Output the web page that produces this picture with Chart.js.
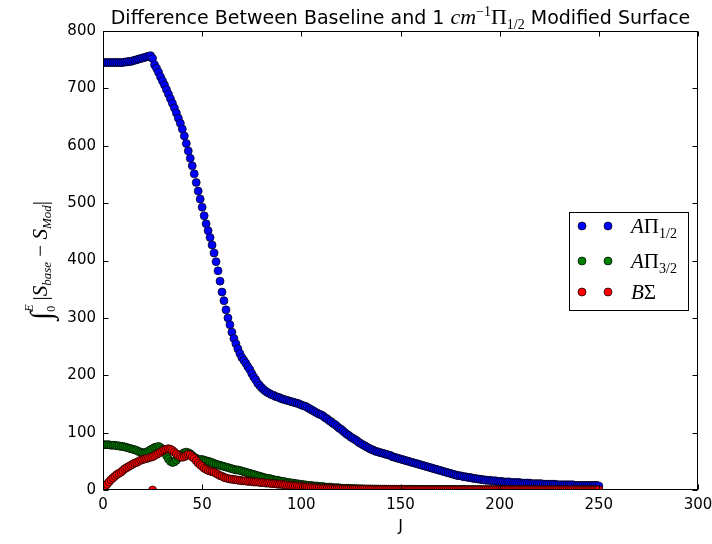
<!DOCTYPE html>
<html>
<head>
<meta charset="utf-8">
<script src="https://cdn.jsdelivr.net/npm/chart.js@4.4.0/dist/chart.umd.min.js"></script>
<style>
  html, body { margin: 0; padding: 0; background: #fff; }
  #wrap { width: 712px; height: 544px; }
</style>
</head>
<body>
<div id="wrap"><canvas id="diffChart" width="712" height="544"></canvas></div>
<script>
// integrated |S_base - S_Mod| per J (J = 0 .. 250)
const aPiHalf = [
  745,745,745,745,745,745,745,745,745,745,
  745,746,746,747,747,748,749,750,751,752,
  753,754,755,756,757,752,741,735,728,720,
  713,706,698,690,682,674,666,657,648,639,
  629,617,604,591,578,565,551,536,521,507,
  493,478,464,452,440,427,413,398,382,364,
  345,330,314,300,288,275,264,255,246,238,
  231,226,221,215,210,203,197,192,186,182,
  178,175,172,170,168,166,165,163,162,161,
  159,158,157,156,155,154,153,152,151,150,
  148,147,146,144,142,140,138,136,134,132,
  131,129,126,124,121,119,116,114,111,108,
  106,103,100,97,95,92,90,88,86,83,
  81,79,77,75,73,71,70,68,67,66,
  65,64,63,62,61,60,58,57,56,55,
  54,53,52,51,50,49,48,47,46,45,
  44,43,42,41,40,39,38,37,36,35,
  34,33,32,31,30,29,28,27,26,25,
  25,24,23,23,22,22,21,20,20,19,
  19,18,18,17,17,17,16,16,16,15,
  15,15,14,14,14,14,13,13,13,13,
  13,12,12,12,12,12,11,11,11,11,
  11,11,10,10,10,10,10,10,10,9,
  9,9,9,9,9,9,9,9,8,8,
  8,8,8,8,8,8,8,8,8,8,
  7
];
const aPiThreeHalf = [
  79,79,79,79,78,78,78,77,77,76,
  76,75,74,73,72,71,70,69,67,66,
  65,65,66,68,70,72,74,75,76,74,
  71,66,60,54,50,48,49,52,56,60,
  63,65,66,65,63,60,57,55,54,53,
  53,52,51,50,49,48,46,45,44,43,
  42,41,40,39,38,37,36,35,35,34,
  33,32,31,30,29,28,27,26,25,24,
  23,22,21,20,20,19,18,17,17,16,
  15,15,14,13,13,12,12,11,11,10,
  10,9,9,8,8,8,7,7,7,6,
  6,6,5,5,5,5,4,4,4,4,
  3,3,3,3,3,2.5,2.5,2.4,2.3,2.2,
  2.1,2.0,1.9,1.9,1.8,1.8,1.7,1.7,1.6,1.6,
  1.5,1.5,1.5,1.4,1.4,1.4,1.3,1.3,1.3,1.2,
  1.2,1.2,1.2,1.1,1.1,1.1,1.1,1.0,1.0,1.0,
  1.0,1.0,0.9,0.9,0.9,0.9,0.9,0.9,0.8,0.8,
  0.8,0.8,0.8,0.8,0.8,0.7,0.7,0.7,0.7,0.7,
  0.7,0.7,0.7,0.6,0.6,0.6,0.6,0.6,0.6,0.6,
  0.6,0.6,0.6,0.5,0.5,0.5,0.5,0.5,0.5,0.5,
  0.5,0.5,0.5,0.5,0.5,0.5,0.5,0.5,0.4,0.4,
  0.4,0.4,0.4,0.4,0.4,0.4,0.4,0.4,0.4,0.4,
  0.4,0.4,0.4,0.4,0.4,0.4,0.4,0.4,0.4,0.4,
  0.4,0.4,0.4,0.4,0.3,0.3,0.3,0.3,0.3,0.3,
  0.3,0.3,0.3,0.3,0.3,0.3,0.3,0.3,0.3,0.3,
  0.3
];
const bSigma = [
  2,6,10,14,18,21,24,27,29,31,
  34,37,39,41,43,45,47,48,50,52,
  53,54,55,56,57,58,60,62,64,66,
  68,70,71,72,71,69,66,63,60,58,
  57,58,60,62,61,58,55,51,47,44,
  41,38,36,34,33,32,31,29,27,25,
  24,22,21,20,19,19,18,18,17,17,
  16,16,16,15,15,15,14,14,14,13,
  13,13,12,12,12,11,11,11,10,10,
  10,9,9,8,8,8,7,7,7,6,
  6,5.5,5.2,4.9,4.6,4.3,4.0,3.8,3.6,3.4,
  3.2,3.0,2.8,2.7,2.5,2.4,2.3,2.2,2.1,2.0,
  1.9,1.8,1.7,1.6,1.6,1.5,1.4,1.4,1.3,1.3,
  1.2,1.2,1.1,1.1,1.1,1.0,1.0,1.0,0.9,0.9,
  0.9,0.9,0.8,0.8,0.8,0.8,0.8,0.7,0.7,0.7,
  0.7,0.7,0.7,0.6,0.6,0.6,0.6,0.6,0.6,0.6,
  0.6,0.5,0.5,0.5,0.5,0.5,0.5,0.5,0.5,0.5,
  0.5,0.5,0.5,0.5,0.5,0.5,0.5,0.5,0.5,0.5,
  0.5,0.5,0.5,0.5,0.5,0.4,0.4,0.4,0.4,0.4,
  0.4,0.4,0.4,0.4,0.4,0.4,0.4,0.4,0.4,0.4,
  0.4,0.4,0.4,0.4,0.4,0.4,0.4,0.4,0.4,0.4,
  0.4,0.4,0.4,0.4,0.4,0.3,0.3,0.3,0.3,0.3,
  0.3,0.3,0.3,0.3,0.3,0.3,0.3,0.3,0.3,0.3,
  0.3,0.3,0.3,0.3,0.3,0.3,0.3,0.3,0.3,0.3,
  0.3,0.3,0.3,0.3,0.3,0.3,0.3,0.3,0.3,0.3,
  0.3
];
// lone B-Sigma sample lying on the axis
const bSigmaExtraJ = [25];
const bSigmaExtraVal = [0];

const seriesNames = ['AΠ1/2', 'AΠ3/2', 'BΣ'];
const seriesColors = ['#0000ff', '#008000', '#ff0000'];

const SANS = '"DejaVu Sans", sans-serif';
const SERIF = '"Liberation Serif", "DejaVu Serif", serif';

function toPoints(vals) {
  return vals.map((v, j) => ({ x: j, y: v }));
}

const redPoints = toPoints(bSigma).concat(bSigmaExtraJ.map((j, i) => ({ x: j, y: bSigmaExtraVal[i] })));

// text made of runs: [text, font, dy, advance override]
function drawRuns(ctx, runs, x, y, align) {
  let total = 0;
  runs.forEach(r => {
    ctx.font = r[1];
    total += (r[3] !== undefined) ? r[3] : ctx.measureText(r[0]).width;
  });
  let cx = align === 'center' ? x - total / 2 : x;
  runs.forEach(r => {
    ctx.font = r[1];
    ctx.fillText(r[0], cx, y + (r[2] || 0));
    cx += (r[3] !== undefined) ? r[3] : ctx.measureText(r[0]).width;
  });
}

const framePlugin = {
  id: 'frame',
  afterDraw(chart) {
    const ctx = chart.ctx;
    const a = chart.chartArea;
    const xs = chart.scales.x, ys = chart.scales.y;
    ctx.save();
    ctx.strokeStyle = '#000';
    ctx.lineWidth = 1;
    const L = Math.round(a.left) + 0.5, R = Math.round(a.right) - 0.5;
    const T = Math.round(a.top) + 0.5, B = Math.round(a.bottom) - 0.5;
    ctx.strokeRect(L, T, R - L, B - T);

    // inward ticks on all four sides
    ctx.beginPath();
    xs.ticks.forEach(t => {
      const px = Math.round(xs.getPixelForValue(t.value)) + 0.5;
      ctx.moveTo(px, B); ctx.lineTo(px, B - 5);
      ctx.moveTo(px, T); ctx.lineTo(px, T + 5);
    });
    ys.ticks.forEach(t => {
      const py = Math.round(ys.getPixelForValue(t.value)) + 0.5;
      ctx.moveTo(L, py); ctx.lineTo(L + 5, py);
      ctx.moveTo(R, py); ctx.lineTo(R - 5, py);
    });
    ctx.stroke();

    ctx.fillStyle = '#000';
    ctx.textBaseline = 'alphabetic';
    ctx.textAlign = 'left';

    // title
    const cxT = (a.left + a.right) / 2;
    drawRuns(ctx, [
      ['Difference Between Baseline and 1 ', '19px ' + SANS, 0],
      ['cm', 'italic 22px ' + SERIF, 0],
      ['\u22121', '14px ' + SERIF, -8],
      ['\u03A0', '22px ' + SERIF, 0],
      ['1/2', '14px ' + SERIF, 5],
      [' Modified Surface', '19px ' + SANS, 0]
    ], cxT, 24, 'center');

    // x label
    ctx.font = '16px ' + SANS;
    ctx.textAlign = 'center';
    ctx.fillText('J', cxT, 531);
    ctx.textAlign = 'left';

    // y label, rotated
    ctx.save();
    ctx.translate(47, (a.top + a.bottom) / 2);
    ctx.rotate(-Math.PI / 2);
    drawRuns(ctx, [
      ['\u222B', '30px ' + SERIF, 4],
      ['E', 'italic 12px ' + SERIF, -14, 0],
      ['0', '12px ' + SERIF, 8],
      [' |', '21px ' + SERIF, 0],
      ['S', 'italic 21px ' + SERIF, 0],
      ['base', 'italic 13px ' + SERIF, 4],
      [' \u2212 ', '21px ' + SERIF, 0],
      ['S', 'italic 21px ' + SERIF, 0],
      ['Mod', 'italic 13px ' + SERIF, 4],
      ['|', '21px ' + SERIF, 0]
    ], 0, 0, 'center');
    ctx.restore();

    // legend box with two markers per entry
    ctx.fillStyle = '#fff';
    ctx.fillRect(569.5, 212.5, 119, 98);
    ctx.strokeRect(569.5, 212.5, 119, 98);
    const rows = [226, 261, 292];
    const subs = ['1/2', '3/2', null];
    rows.forEach((ry, i) => {
      [582, 608].forEach(dx => {
        ctx.beginPath();
        ctx.arc(dx, ry, 4, 0, Math.PI * 2);
        ctx.fillStyle = seriesColors[i];
        ctx.fill();
        ctx.lineWidth = 0.7;
        ctx.strokeStyle = '#000';
        ctx.stroke();
      });
      ctx.fillStyle = '#000';
      const runs = i < 2
        ? [['A', 'italic 21px ' + SERIF, 0], ['\u03A0', '21px ' + SERIF, 0], [subs[i], '14px ' + SERIF, 5]]
        : [['B', 'italic 21px ' + SERIF, 0], ['\u03A3', '21px ' + SERIF, 0]];
      drawRuns(ctx, runs, 631, ry + 7, 'left');
    });
    ctx.restore();
  }
};

const tickFont = { family: 'DejaVu Sans', size: 15 };

new Chart(document.getElementById('diffChart').getContext('2d'), {
  type: 'scatter',
  data: {
    datasets: [
      { label: seriesNames[0], data: toPoints(aPiHalf), order: 3 },
      { label: seriesNames[1], data: toPoints(aPiThreeHalf), order: 2 },
      { label: seriesNames[2], data: redPoints, order: 1 }
    ].map((d, i) => Object.assign(d, {
      backgroundColor: seriesColors[i],
      borderColor: '#000',
      borderWidth: 0.7,
      pointRadius: 4,
      pointHoverRadius: 4,
      showLine: false
    }))
  },
  options: {
    responsive: false,
    animation: false,
    events: [],
    layout: { padding: { top: 31, right: 14, bottom: 0, left: 0 } },
    plugins: {
      legend: { display: false },
      tooltip: { enabled: false },
      title: { display: false }
    },
    scales: {
      x: {
        type: 'linear',
        min: 0, max: 300,
        ticks: { stepSize: 50, color: '#000', font: tickFont, padding: 6, maxRotation: 0 },
        grid: { display: false, drawTicks: false },
        border: { display: false },
        afterFit: s => { s.height = 54; s.paddingLeft = 0; s.paddingRight = 0; }
      },
      y: {
        min: 0, max: 800,
        ticks: { stepSize: 100, color: '#000', font: tickFont, padding: 7 },
        grid: { display: false, drawTicks: false },
        border: { display: false },
        afterFit: s => { s.width = 103; s.paddingTop = 0; s.paddingBottom = 0; }
      }
    }
  },
  plugins: [framePlugin]
});
</script>
</body>
</html>
